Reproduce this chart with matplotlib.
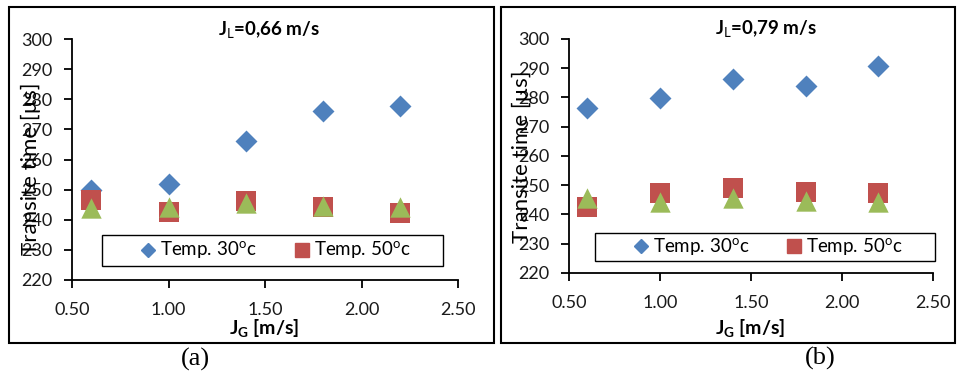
import matplotlib
matplotlib.use("Agg")
import matplotlib.pyplot as plt
from matplotlib.patches import Rectangle
from matplotlib.lines import Line2D

plt.rcParams['font.family'] = ['Lato', 'DejaVu Sans']
plt.rcParams['mathtext.fontset'] = 'custom'
plt.rcParams['mathtext.rm'] = 'Lato'
plt.rcParams['mathtext.bf'] = 'Lato:bold'

# ---- data ----
jg = [0.6, 1.0, 1.4, 1.8, 2.2]
# panel (a): J_L = 0.66 m/s
a_t30 = [250.0, 252.0, 266.0, 276.0, 277.7]
a_t50 = [246.5, 242.6, 246.3, 244.1, 242.1]
a_t3 = [243.8, 244.3, 245.4, 244.5, 244.1]
# panel (b): J_L = 0.79 m/s
b_t30 = [276.3, 279.7, 286.3, 283.9, 290.9]
b_t50 = [242.7, 247.2, 249.0, 247.8, 247.2]
b_t3 = [245.5, 244.4, 245.5, 244.7, 244.4]

xticks = [0.5, 1.0, 1.5, 2.0, 2.5]
xticklabels = ['0.50', '1.00', '1.50', '2.00', '2.50']
yticks = [220, 230, 240, 250, 260, 270, 280, 290, 300]
titles = ['J$_{\\mathrm{L}}$=0,66 m/s', 'J$_{\\mathrm{L}}$=0,79 m/s']
legend_labels = ['Temp. 30$^{\\mathrm{o}}$c', 'Temp. 50$^{\\mathrm{o}}$c']
panel_labels = ['(a)', '(b)']

BLUE = '#4F81BD'
RED = '#C0504D'
GREEN = '#9BBB59'

W, H = 957, 381
fig = plt.figure(figsize=(W / 100, H / 100), dpi=100)

def fx(px):
    return px / W

def fy(py):
    return 1 - py / H

# frames
for (x0, x1) in [(9, 494), (501, 955)]:
    fig.patches.append(Rectangle((fx(x0), fy(343)), fx(x1 - x0), (343 - 7) / H,
                                 transform=fig.transFigure, fill=False,
                                 edgecolor='black', linewidth=1.5))

axes_px = [(72, 458, 39, 280), (569, 933, 39, 273)]
data = [(a_t30, a_t50, a_t3), (b_t30, b_t50, b_t3)]
legend_px = [(102, 443, 235, 266), (595, 935, 233, 261)]
title_px = [(269, 30), (766, 29)]
xlabel_px = [(264, 329), (750, 329)]
ylabel_px = [(31, 169), (522, 157)]
panel_px = [(195, 359), (820, 358)]

for i in range(2):
    x0, x1, y0, y1 = axes_px[i]
    ax = fig.add_axes([fx(x0), fy(y1), fx(x1 - x0), (y1 - y0) / H])
    t30, t50, t3 = data[i]
    ax.scatter(jg, t30, marker='D', s=125, color=BLUE, zorder=3, linewidths=0)
    ax.scatter(jg, t50, marker='s', s=205, color=RED, zorder=3, linewidths=0)
    ax.scatter(jg, t3, marker='^', s=215, color=GREEN, zorder=4, linewidths=0)
    ax.set_xlim(0.5, 2.5)
    ax.set_ylim(220, 300)
    ax.set_xticks(xticks)
    ax.set_xticklabels(xticklabels)
    ax.set_yticks(yticks)
    for s in ['top', 'right']:
        ax.spines[s].set_visible(False)
    for s in ['left', 'bottom']:
        ax.spines[s].set_linewidth(1.3)
    ax.tick_params(axis='both', direction='out', length=6, width=1.3,
                   labelsize=13, colors='black')
    ax.tick_params(axis='y', pad=8)
    ax.tick_params(axis='x', pad=10)
    ax.set_facecolor('none')
    for lab in ax.get_xticklabels() + ax.get_yticklabels():
        lab.set_color('#1a1a1a')

    # legend box
    lx0, lx1, ly0, ly1 = legend_px[i]
    fig.patches.append(Rectangle((fx(lx0), fy(ly1)), fx(lx1 - lx0), (ly1 - ly0) / H,
                                 transform=fig.transFigure, facecolor='white',
                                 edgecolor='black', linewidth=1.0, zorder=5))
    handles = [Line2D([], [], marker='D', color=BLUE, linestyle='none', markersize=7),
               Line2D([], [], marker='s', color=RED, linestyle='none', markersize=9.5)]
    leg = fig.legend(handles, legend_labels, ncol=2, loc='center',
                     bbox_to_anchor=(fx((lx0 + lx1) / 2 + 3), fy((ly0 + ly1) / 2)),
                     bbox_transform=fig.transFigure,
                     frameon=False, fontsize=13.5,
                     handlelength=0.8, handletextpad=0.25, columnspacing=2.0,
                     borderpad=0.0)
    leg.set_zorder(6)

    tx, ty = title_px[i]
    fig.text(fx(tx), fy(ty), titles[i], ha='center', va='center',
             fontsize=13.5, fontweight='bold')
    xx, xy = xlabel_px[i]
    fig.text(fx(xx), fy(xy), 'J$_{\\mathbf{G}}$ [m/s]', ha='center', va='center',
             fontsize=14, fontweight='bold')
    yx, yy = ylabel_px[i]
    fig.text(fx(yx), fy(yy), 'Transite time [µs]', ha='center', va='center',
             rotation=90, fontsize=16)
    px, py = panel_px[i]
    fig.text(fx(px), fy(py), panel_labels[i], ha='center', va='center',
             fontsize=19, family=['Liberation Serif', 'DejaVu Serif'])

fig.savefig('out.png', dpi=100)
